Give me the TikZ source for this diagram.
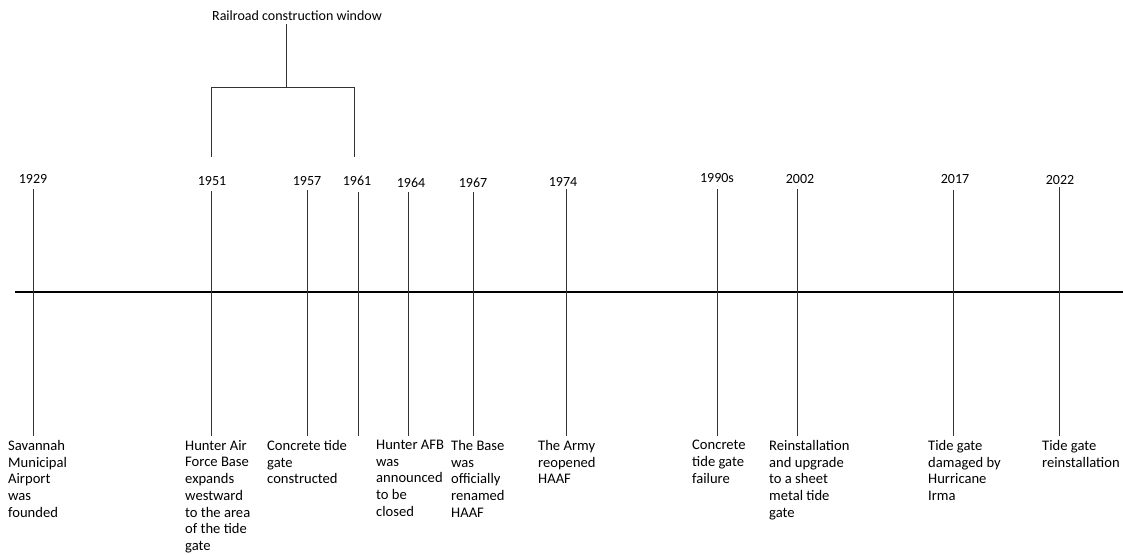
\documentclass[tikz,border=0pt]{standalone}
\usepackage{fontspec}
\setmainfont{Carlito}
\usetikzlibrary{positioning}

\begin{document}
\begin{tikzpicture}[x=1pt,y=-1pt,
    yearlbl/.style={inner sep=0pt,font=\fontsize{14}{16}\selectfont},
    eventtxt/.style={anchor=north west,inner sep=0pt,align=left,
      font=\fontsize{14.6}{16.7}\selectfont},
    tickline/.style={black!80,line width=1pt}]
  \useasboundingbox (0,0) rectangle (1123,554);
  % time axis
  \coordinate (axl) at (15,292);
  \coordinate (axr) at (1123,292);
  \draw[line width=1.3pt] (axl) -- (axr);
  % years and ticks
  \foreach \nm/\xt/\yt/\xl/\yl in {1929/33/189/33/179, 1951/211/191/212/181,
      1957/307/190/307/181, 1961/358/192/357/181, 1964/408/192/411/183,
      1967/473/192/473/183, 1974/566/189/563/182, 1990s/717/189/717/178,
      2002/797/189/800/179, 2017/953/190/955/179, 2022/1059/187/1060/180} {
    \node[yearlbl] (y\nm) at (\xl,\yl) {\nm};
    \coordinate (k\nm) at (\xt,\yt);
    \coordinate (b\nm) at (\xt,436);
    \draw[tickline] (k\nm) -- (b\nm);
  }
  % event texts
  \foreach \nm/\xd/\txt in {1929/8/{Savannah\\Municipal\\Airport\\was\\founded},
      1951/185/{Hunter Air\\Force Base\\expands\\westward\\to the area\\of the tide\\gate},
      1957/267/{Concrete tide\\gate\\constructed},
      1964/376/{Hunter AFB\\was\\announced\\to be\\closed},
      1967/451/{The Base\\was\\officially\\renamed\\HAAF},
      1974/538/{The Army\\reopened\\HAAF},
      1990s/692/{Concrete\\tide gate\\failure},
      2002/769/{Reinstallation\\and upgrade\\to a sheet\\metal tide\\gate},
      2017/928/{Tide gate\\damaged by\\Hurricane\\Irma},
      2022/1042/{Tide gate\\reinstallation}} {
    \node[eventtxt] (d\nm) at (\xd,440) {\txt};
  }
  % railroad bracket
  \node[yearlbl] (rail) at (297,16) {Railroad construction window};
  \coordinate (stem) at (286,87);
  \coordinate (bl) at (211,157);
  \coordinate (br) at (354,157);
  \draw[tickline] (stem |- rail.south) ++(0,3) -- (stem);
  \draw[tickline] (bl) -- (bl |- stem) -- (br |- stem) -- (br);
\end{tikzpicture}
\end{document}
